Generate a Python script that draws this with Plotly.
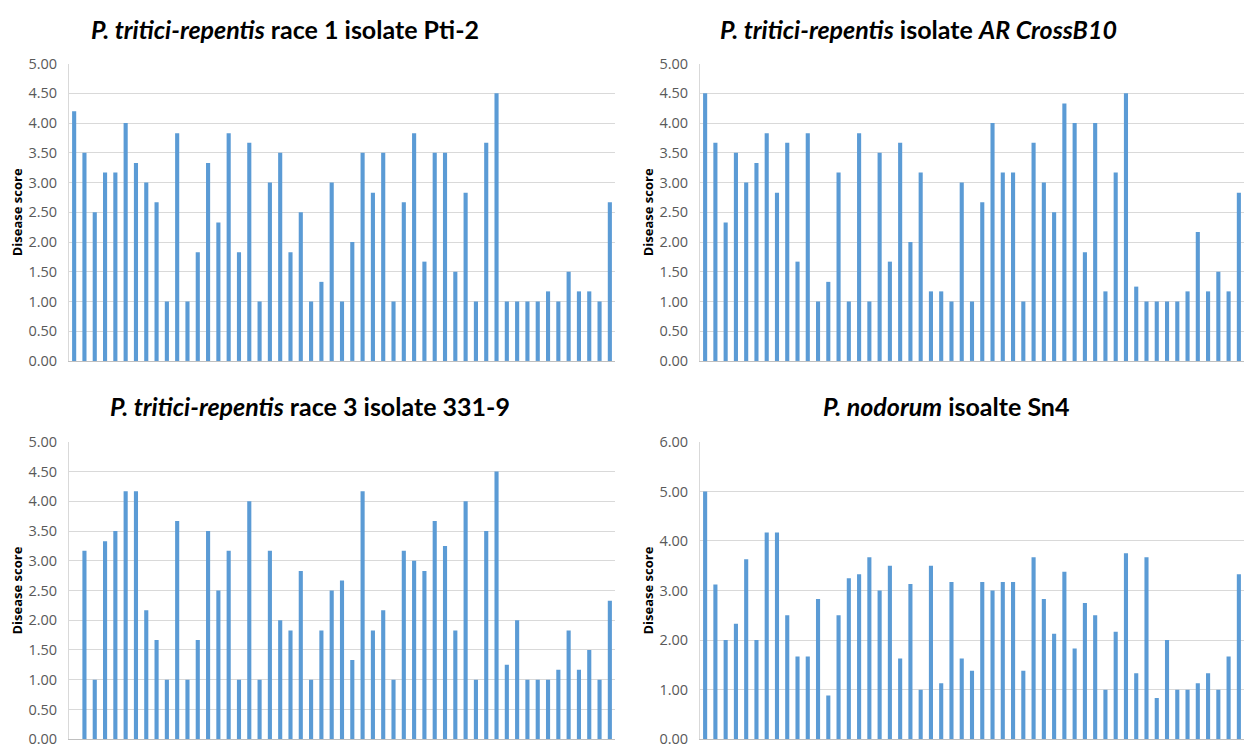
import plotly.graph_objects as go

# Disease scores for 53 wheat lines, one list per pathogen isolate
lines = list(range(1, 54))

pti2_race1 = [4.20, 3.50, 2.50, 3.17, 3.17, 4.00, 3.33, 3.00, 2.67, 1.00, 3.83, 1.00, 1.83, 3.33,
              2.33, 3.83, 1.83, 3.67, 1.00, 3.00, 3.50, 1.83, 2.50, 1.00, 1.33, 3.00, 1.00, 2.00,
              3.50, 2.83, 3.50, 1.00, 2.67, 3.83, 1.67, 3.50, 3.50, 1.50, 2.83, 1.00, 3.67, 4.50,
              1.00, 1.00, 1.00, 1.00, 1.17, 1.00, 1.50, 1.17, 1.17, 1.00, 2.67]

ar_crossb10 = [4.50, 3.67, 2.33, 3.50, 3.00, 3.33, 3.83, 2.83, 3.67, 1.67, 3.83, 1.00, 1.33, 3.17,
               1.00, 3.83, 1.00, 3.50, 1.67, 3.67, 2.00, 3.17, 1.17, 1.17, 1.00, 3.00, 1.00, 2.67,
               4.00, 3.17, 3.17, 1.00, 3.67, 3.00, 2.50, 4.33, 4.00, 1.83, 4.00, 1.17, 3.17, 4.50,
               1.25, 1.00, 1.00, 1.00, 1.00, 1.17, 2.17, 1.17, 1.50, 1.17, 2.83]

race3_331_9 = [None, 3.17, 1.00, 3.33, 3.50, 4.17, 4.17, 2.17, 1.67, 1.00, 3.67, 1.00, 1.67, 3.50,
               2.50, 3.17, 1.00, 4.00, 1.00, 3.17, 2.00, 1.83, 2.83, 1.00, 1.83, 2.50, 2.67, 1.33,
               4.17, 1.83, 2.17, 1.00, 3.17, 3.00, 2.83, 3.67, 3.25, 1.83, 4.00, 1.00, 3.50, 4.50,
               1.25, 2.00, 1.00, 1.00, 1.00, 1.17, 1.83, 1.17, 1.50, 1.00, 2.33]

sn4_nodorum = [5.00, 3.12, 2.00, 2.33, 3.63, 2.00, 4.17, 4.17, 2.50, 1.67, 1.67, 2.83, 0.88, 2.50,
               3.25, 3.33, 3.67, 3.00, 3.50, 1.63, 3.13, 1.00, 3.50, 1.13, 3.17, 1.63, 1.38, 3.17,
               3.00, 3.17, 3.17, 1.38, 3.67, 2.83, 2.13, 3.38, 1.83, 2.75, 2.50, 1.00, 2.17, 3.75,
               1.33, 3.67, 0.83, 2.00, 1.00, 1.00, 1.13, 1.33, 1.00, 1.67, 3.33]

titles = [
    "<b><i>P. tritici-repentis</i> race 1 isolate Pti-2</b>",
    "<b><i>P. tritici-repentis</i> isolate <i>AR CrossB10</i></b>",
    "<b><i>P. tritici-repentis</i> race 3 isolate 331-9</b>",
    "<b><i>P. nodorum</i> isoalte Sn4</b>",
]
series = [pti2_race1, ar_crossb10, race3_331_9, sn4_nodorum]
y_max = [5, 5, 5, 6]
y_step = [0.5, 0.5, 0.5, 1.0]

W, H = 1245, 756
BAR = "#5B9BD5"
GRID = "#D9D9D9"
TICK = "#595959"
TITLE_FONT = "Lato, Open Sans, sans-serif"
AXIS_FONT = "Open Sans, Lato, sans-serif"

# panel plot areas in pixels: (left, right, top, bottom)
boxes = [(69, 615, 55, 360), (700, 1244, 55, 360), (69, 615, 443, 748), (700, 1244, 443, 748)]
title_pos = [(285, 20), (918, 20), (310, 406), (946, 406)]

fig = go.Figure()
layout = dict(
    width=W, height=H,
    margin=dict(l=0, r=0, t=0, b=0),
    paper_bgcolor="white", plot_bgcolor="white",
    showlegend=False, bargap=0.6,
    font=dict(family=AXIS_FONT, color=TICK),
)
annotations = []

for i, (vals, box) in enumerate(zip(series, boxes)):
    n = "" if i == 0 else str(i + 1)
    left, right, top, bottom = box
    fig.add_trace(go.Bar(x=lines, y=vals, marker=dict(color=BAR, line=dict(width=0)),
                         xaxis="x" + n, yaxis="y" + n, width=0.4))
    layout["xaxis" + n] = dict(
        domain=[left / W, right / W], anchor="y" + n,
        range=[0.5, 53.5], showticklabels=False, ticks="",
        showgrid=False, zeroline=False, showline=True, linecolor="#BFBFBF", linewidth=1,
    )
    layout["yaxis" + n] = dict(
        domain=[1 - bottom / H, 1 - top / H], anchor="x" + n,
        range=[0, y_max[i]], dtick=y_step[i], tickformat=".2f",
        showgrid=True, gridcolor=GRID, gridwidth=1, zeroline=False,
        showline=True, linecolor="#D9D9D9", linewidth=1,
        tickfont=dict(family=AXIS_FONT, size=14.5, color=TICK),
        ticks="", ticklabelstandoff=8,
    )
    tx, ty = title_pos[i]
    annotations.append(dict(
        text=titles[i], x=tx / W, y=1 - ty / H, xref="paper", yref="paper",
        xanchor="center", yanchor="middle", showarrow=False,
        font=dict(family=TITLE_FONT, size=25, color="black"),
    ))
    annotations.append(dict(
        text="<b>Disease score</b>", x=(left - 52) / W, y=1 - (top + bottom) / 2 / H,
        xref="paper", yref="paper", xanchor="center", yanchor="middle",
        showarrow=False, textangle=-90,
        font=dict(family=AXIS_FONT, size=13, color="black"),
    ))

layout["annotations"] = annotations
fig.update_layout(**layout)
fig.write_html("out.html")
